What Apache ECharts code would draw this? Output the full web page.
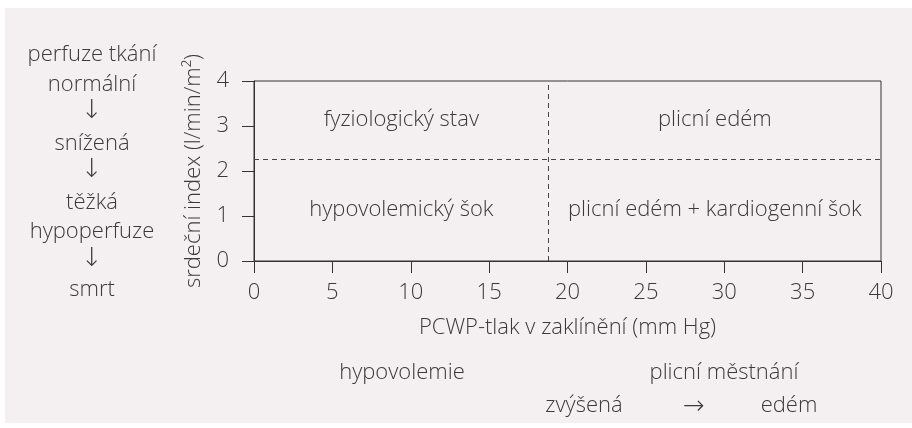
<!DOCTYPE html>
<html>
<head>
<meta charset="utf-8">
<script src="https://cdn.jsdelivr.net/npm/echarts@6/dist/echarts.min.js"></script>
<style>
html,body{margin:0;padding:0;background:#fff;}
#c{width:912px;height:428px;}
</style>
</head>
<body>
<div id="c"></div>
<script>
// ---- data ----
const xMin = 0, xMax = 40, xInterval = 5;
const yMin = 0, yMax = 4, yInterval = 1;
const pcwpThreshold = 18.8;   // vertical dashed line (mm Hg)
const ciThreshold = 2.27;     // horizontal dashed line (l/min/m2)
const regionNames = ['fyziologický stav', 'plicní edém', 'hypovolemický šok', 'plicní edém + kardiogenní šok'];
const xAxisName = 'PCWP-tlak v zaklínění (mm Hg)';
const yAxisName = 'srdeční index (l/min/m²)';
const leftLabels = ['perfuze tkání', 'normální', '↓', 'snížená', '↓', 'těžká', 'hypoperfuze', '↓', 'smrt'];
const bottomRow1 = ['hypovolemie', 'plicní městnání'];
const bottomRow2 = ['zvýšená', '→', 'edém'];

const FONT = '"Open Sans", "Noto Sans", sans-serif';
const ARROW_FONT = '"DejaVu Sans", sans-serif';
const TXT = '#3a3a3a';
const FS = 22;
const AFS = 26;
const FW = 300;

function isArrow(t) { return t === '↓' || t === '→'; }
function fontFor(t) {
  return isArrow(t) ? ('200 ' + AFS + 'px ' + ARROW_FONT) : (FW + ' ' + FS + 'px ' + FONT);
}

const regions = [
  [{xAxis: xMin, yAxis: ciThreshold, name: regionNames[0]}, {xAxis: pcwpThreshold, yAxis: yMax}],
  [{xAxis: pcwpThreshold, yAxis: ciThreshold, name: regionNames[1]}, {xAxis: xMax, yAxis: yMax}],
  [{xAxis: xMin, yAxis: yMin, name: regionNames[2]}, {xAxis: pcwpThreshold, yAxis: ciThreshold}],
  [{xAxis: pcwpThreshold, yAxis: yMin, name: regionNames[3]}, {xAxis: xMax, yAxis: ciThreshold}]
];

const graphics = [
  {type: 'rect', shape: {x: 5, y: 8, width: 907, height: 415}, style: {fill: '#f4eff1'}, z: -10, silent: true}
];
const leftYs = [55, 85, 111, 144, 170, 203, 232, 259, 290];
leftLabels.forEach((t, i) => {
  graphics.push({type: 'text', x: 92, y: leftYs[i], style: {text: t, fill: TXT, font: fontFor(t), textAlign: 'center', textVerticalAlign: 'middle'}});
});
const b1x = [402, 724];
bottomRow1.forEach((t, i) => {
  graphics.push({type: 'text', x: b1x[i], y: 373, style: {text: t, fill: TXT, font: fontFor(t), textAlign: 'center', textVerticalAlign: 'middle'}});
});
const b2x = [584, 694, 789];
bottomRow2.forEach((t, i) => {
  graphics.push({type: 'text', x: b2x[i], y: isArrow(t) ? 407 : 406, style: {text: t, fill: TXT, font: fontFor(t), textAlign: 'center', textVerticalAlign: 'middle'}});
});

const labelStyle = {color: TXT, fontSize: FS, fontFamily: FONT, fontWeight: FW};

const chart = echarts.init(document.getElementById('c'), null, {renderer: 'canvas'});
chart.setOption({
  animation: false,
  backgroundColor: '#ffffff',
  textStyle: {fontFamily: FONT},
  grid: {left: 254, right: 31, top: 81, bottom: 167, show: true, borderColor: '#333', borderWidth: 1, backgroundColor: 'transparent'},
  xAxis: {
    type: 'value', min: xMin, max: xMax, interval: xInterval,
    name: xAxisName, nameLocation: 'middle', nameGap: 56,
    nameTextStyle: labelStyle,
    axisLine: {show: true, lineStyle: {color: '#333', width: 1}},
    axisTick: {show: true, length: 12, lineStyle: {color: '#333'}},
    axisLabel: Object.assign({margin: 21}, labelStyle),
    splitLine: {show: false}
  },
  yAxis: {
    type: 'value', min: yMin, max: yMax, interval: yInterval,
    name: yAxisName, nameLocation: 'middle', nameGap: 49,
    nameTextStyle: labelStyle,
    axisLine: {show: true, lineStyle: {color: '#333', width: 1}},
    axisTick: {show: true, length: 12, lineStyle: {color: '#333'}},
    axisLabel: Object.assign({margin: 25}, labelStyle),
    splitLine: {show: false}
  },
  graphic: graphics,
  series: [{
    type: 'line',
    data: [],
    silent: true,
    markLine: {
      silent: true,
      symbol: 'none',
      label: {show: false},
      lineStyle: {color: '#444', width: 1, type: [5, 4]},
      data: [{xAxis: pcwpThreshold}, {yAxis: ciThreshold}]
    },
    markArea: {
      silent: true,
      itemStyle: {color: 'rgba(0,0,0,0)'},
      label: Object.assign({show: true, position: 'inside'}, labelStyle),
      data: regions
    }
  }]
});
</script>
</body>
</html>
